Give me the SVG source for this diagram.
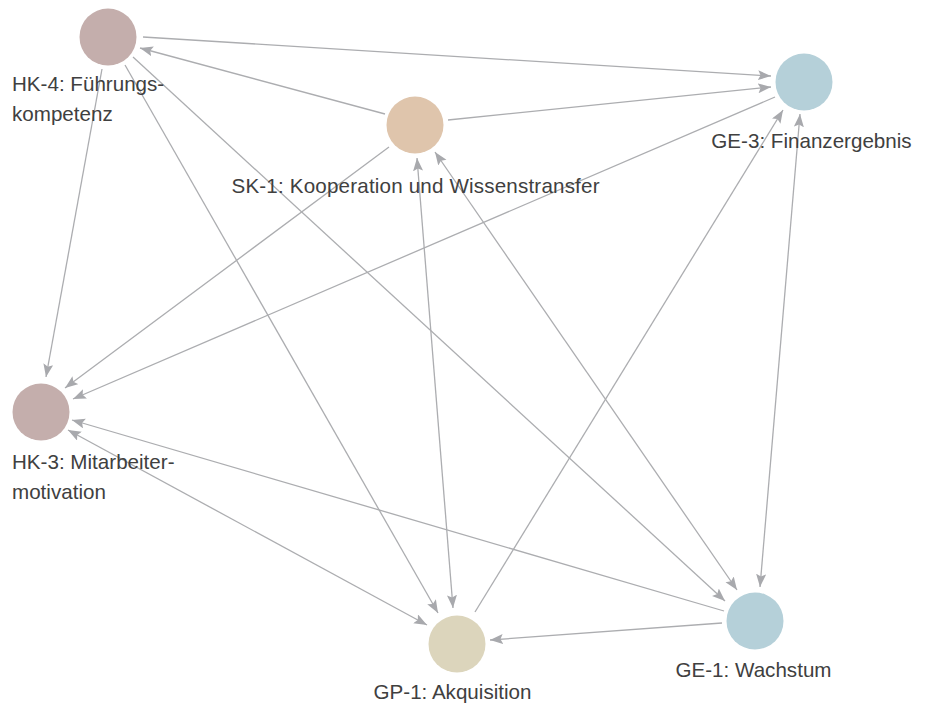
<svg xmlns="http://www.w3.org/2000/svg" width="931" height="704" viewBox="0 0 931 704">
<style>
.edge{stroke:#acadb0;stroke-width:1.3;fill:none}
.lbl{font-family:"Liberation Sans",Arial,sans-serif;font-size:20.6px;fill:#404040}
.hk{fill:#c4aeac}.sk{fill:#dfc5ac}.ge{fill:#b5d0d9}.gp{fill:#dcd5bc}
</style>
<defs>
<marker id="arr" markerUnits="userSpaceOnUse" markerWidth="14" markerHeight="11" refX="13" refY="5" orient="auto-start-reverse" viewBox="0 0 14 11">
<path d="M0,0 L13,5 L0,10 L2.5,5 Z" fill="#a8a9ad"/>
</marker>
</defs>
<rect width="931" height="704" fill="#ffffff"/>
<g id="connectors">
<line class="edge" x1="385" y1="114" x2="140" y2="48" marker-end="url(#arr)"/>
<line class="edge" x1="143" y1="37" x2="771" y2="76" marker-end="url(#arr)"/>
<line class="edge" x1="448" y1="120" x2="771" y2="87" marker-end="url(#arr)"/>
<line class="edge" x1="102" y1="69" x2="46" y2="377" marker-end="url(#arr)"/>
<line class="edge" x1="125" y1="65" x2="438" y2="613" marker-end="url(#arr)"/>
<line class="edge" x1="133" y1="57" x2="725" y2="601" marker-end="url(#arr)"/>
<line class="edge" x1="389" y1="147" x2="65" y2="388" marker-end="url(#arr)"/>
<line class="edge" x1="775" y1="97" x2="73" y2="399" marker-end="url(#arr)"/>
<line class="edge" x1="724" y1="611" x2="72" y2="420" marker-end="url(#arr)"/>
<line class="edge" x1="68" y1="430" x2="427" y2="625" marker-start="url(#arr)" marker-end="url(#arr)"/>
<line class="edge" x1="417" y1="158" x2="453" y2="608" marker-start="url(#arr)" marker-end="url(#arr)"/>
<line class="edge" x1="435" y1="152" x2="737" y2="590" marker-start="url(#arr)" marker-end="url(#arr)"/>
<line class="edge" x1="722" y1="623" x2="490" y2="640" marker-end="url(#arr)"/>
<line class="edge" x1="475" y1="612" x2="783" y2="110" marker-end="url(#arr)"/>
<line class="edge" x1="800" y1="114" x2="760" y2="587" marker-start="url(#arr)" marker-end="url(#arr)"/>
</g>
<g id="HK-4">
<circle class="hk" cx="108" cy="37" r="28.5"/>
<text class="lbl" x="12" y="91">HK-4: Führungs-</text>
<text class="lbl" x="12" y="121">kompetenz</text>
</g>
<g id="SK-1">
<circle class="sk" cx="415" cy="125" r="28.5"/>
<text class="lbl" x="415.5" y="193" text-anchor="middle" textLength="368" lengthAdjust="spacing">SK-1: Kooperation und Wissenstransfer</text>
</g>
<g id="GE-3">
<circle class="ge" cx="804" cy="82" r="28.5"/>
<text class="lbl" x="811.5" y="148" text-anchor="middle">GE-3: Finanzergebnis</text>
</g>
<g id="HK-3">
<circle class="hk" cx="41" cy="412" r="28.5"/>
<text class="lbl" x="12" y="469">HK-3: Mitarbeiter-</text>
<text class="lbl" x="12" y="499">motivation</text>
</g>
<g id="GP-1">
<circle class="gp" cx="457" cy="644" r="28.5"/>
<text class="lbl" x="452.5" y="699" text-anchor="middle">GP-1: Akquisition</text>
</g>
<g id="GE-1">
<circle class="ge" cx="755" cy="621" r="28.5"/>
<text class="lbl" x="753.5" y="677" text-anchor="middle">GE-1: Wachstum</text>
</g>
</svg>
